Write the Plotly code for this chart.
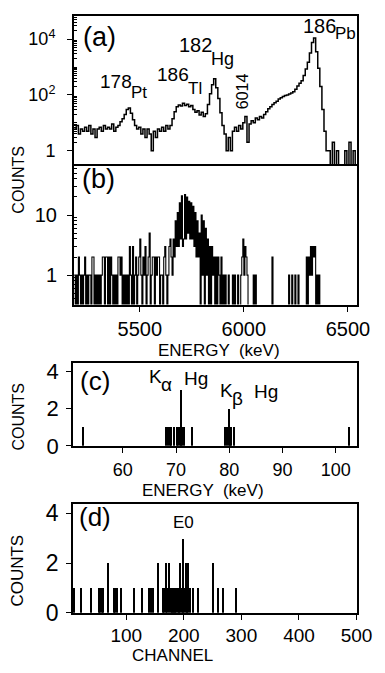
import numpy as np
import plotly.graph_objects as go

# ---------------- DATA ----------------
# Panel (a): alpha singles spectrum, 10 keV bins, first bin starts at 5185 keV
a_e_start = 5185
a_bin_kev = 10
a_counts = [
    6, 8, 4, 6, 5, 7, 5, 8, 4, 6,
    3, 6, 7, 5, 8, 6, 7, 6, 9, 5,
    7, 8, 11, 14, 20, 30, 34, 22, 13, 8,
    6, 7, 4, 6, 3, 6, 4, 1, 5, 3,
    6, 5, 7, 5, 8, 6, 8, 14, 25, 38,
    44, 40, 50, 42, 46, 38, 42, 30, 24, 27,
    19, 24, 17, 21, 45, 110, 230, 380, 180, 75,
    23, 8, 4, 1, 3, 1, 5, 7, 5, 8,
    6, 10, 17, 2, 9, 12, 10, 15, 13, 17,
    15, 20, 25, 32, 38, 45, 52, 60, 72, 80,
    88, 95, 100, 108, 118, 130, 160, 210, 260, 320,
    500, 850, 1500, 3200, 7500, 11000, 3500, 900, 200, 30,
    5, 1, 1, 0, 2, 0, 1, 0, 0, 0,
    1, 0, 2, 0, 1, 0,
]

# Panel (b): coincidence spectrum, 5 keV bins, first bin starts at 5185 keV
b_e_start = 5185
b_bin_kev = 5
b_counts = (
    [1, 0, 1, 0, 2, 1, 0, 1, 0, 1,
     2, 0, 1, 0, 1, 1, 0, 2, 2, 0,
     1, 0, 1, 0, 1, 0, 1, 2, 2, 0,
     2, 2, 0, 2, 0, 2, 1, 0, 1, 0,
     1, 0, 2, 2, 1, 2, 0, 1, 0, 1,
     0, 1, 0, 3, 1, 0, 3, 0, 1, 2,
     0, 1, 2, 4, 1, 0, 2, 1, 3, 0,
     1, 2, 5, 0, 1, 2, 2, 0, 2, 1,
     2, 2, 0, 1, 1, 0, 2, 3, 1, 0,
     1, 3, 4]
    + [2, 1, 4, 2, 8, 3, 11, 3, 16, 4,
       21, 3, 4, 22, 4, 20, 5, 17, 4, 16,
       4, 14, 3, 11, 2, 8, 2, 5, 0, 10,
       1, 8, 0, 6, 1, 4, 0, 3, 0, 3,
       1, 2, 0, 2, 0, 2, 1, 0, 2, 0,
       1, 0, 1, 0, 0, 1, 0, 0, 0, 1,
       0, 1, 0, 0, 1, 0, 0, 1, 2, 4,
       1, 3, 2, 1]
    + [0, 0, 0, 0, 0, 1, 0, 1, 0, 0, 0, 0, 0, 0, 0,
       0, 0, 0, 0, 0, 0, 0, 0, 2, 0, 0, 0, 0, 0, 0,
       0, 0, 0, 0, 0, 0, 0, 0, 0, 1, 0, 0, 1, 0, 0,
       1, 0, 0, 1, 0, 0, 0, 0, 0, 0, 0, 2, 0, 2, 1,
       3, 1, 3, 2, 3, 0, 1, 0, 1, 0, 0, 0, 0, 0, 0,
       0, 0, 0, 0, 0, 0, 0, 0, 0, 0, 0, 0, 0, 0, 0,
       0, 0, 0, 0, 0, 0, 0, 0, 0, 0, 0, 0, 0, 0, 0]
)

# Panel (c): X-ray energies (keV) and counts
c_energy = [52.6, 68.2, 68.5, 68.8, 69.1, 69.7, 70.1, 70.4, 70.7, 70.9,
            71.2, 71.5, 73.0, 79.2, 79.5, 79.9, 80.2, 80.4, 80.9, 102.5]
c_counts = [1, 1, 1, 1, 1, 1, 1, 1, 1, 3,
            1, 1, 1, 1, 1, 2, 1, 1, 1, 1]

# Panel (d): electron channel and counts
d_channel = [9, 22, 39, 53, 55, 57, 59, 68, 79, 81, 83, 91, 113, 128, 140,
             143, 146, 155, 163, 165, 169, 171, 174, 177, 179, 181, 183, 185, 187, 189,
             191, 194, 196, 199, 201, 203, 205, 208, 211, 216, 225, 251, 260, 268, 290]
d_counts = [1, 1, 1, 1, 1, 1, 1, 2, 1, 1, 1, 1, 1, 1, 1,
            1, 1, 2, 1, 1, 2, 1, 2, 1, 1, 1, 1, 1, 1, 1,
            1, 2, 1, 3, 1, 2, 1, 2, 1, 1, 1, 2, 1, 1, 1]

# ---------------- FIGURE ----------------
W, H = 385, 673
FONT = "Liberation Sans"
LOG_FLOOR = 0.01  # zero-count bins drawn below the visible log range


def step_xy(start, width, counts):
    c = np.asarray(counts, dtype=float)
    edges = start + width * np.arange(len(c) + 1)
    y = np.where(c > 0, c, LOG_FLOOR)
    y = np.append(y, y[-1])
    return edges, y


def px_x(x):
    return x / W


def px_y(y):
    return 1 - y / H


fig = go.Figure()

xa, ya = step_xy(a_e_start, a_bin_kev, a_counts)
fig.add_trace(go.Scatter(x=xa, y=ya, mode="lines", line=dict(shape="hv", color="black", width=1.5),
                         xaxis="x", yaxis="y", showlegend=False))
xb, yb = step_xy(b_e_start, b_bin_kev, b_counts)
fig.add_trace(go.Scatter(x=xb, y=yb, mode="lines", line=dict(shape="hv", color="black", width=1.1),
                         xaxis="x2", yaxis="y2", showlegend=False))
fig.add_trace(go.Bar(x=c_energy, y=c_counts, width=0.26, marker=dict(color="black", line=dict(width=0)),
                     xaxis="x3", yaxis="y3", showlegend=False))
fig.add_trace(go.Bar(x=d_channel, y=d_counts, width=2.2, marker=dict(color="black", line=dict(width=0)),
                     xaxis="x4", yaxis="y4", showlegend=False))

axis_common = dict(showline=True, linecolor="black", linewidth=1.6, mirror=True,
                   showgrid=False, zeroline=False, ticks="outside", tickcolor="black",
                   tickwidth=1.4, ticklen=5, ticklabeloverflow="allow",
                   tickfont=dict(family=FONT, size=20, color="black"))

dom_ab = [px_x(77), px_x(373)]
dom_cd = [px_x(76), px_x(372)]

minor_a = [m * 10 ** k for k in range(0, 5) for m in range(1, 10) if not (m == 1 and k in (0, 2, 4))]
minor_b = [m * 10 ** k for k in range(-1, 2) for m in range(1, 10) if not (m == 1 and k in (0, 1))]

fig.update_layout(
    width=W, height=H, margin=dict(l=0, r=0, t=0, b=0),
    paper_bgcolor="white", plot_bgcolor="white",
    font=dict(family=FONT, color="black"),
    bargap=0,
    # panel (a): x axis drawn only as the top border; bottom border comes from panel (b)
    xaxis=dict(axis_common, domain=dom_ab, anchor="y", range=[5183, 6546], side="top",
               mirror=False, showticklabels=False, ticks="", matches="x2"),
    yaxis=dict(axis_common, domain=[px_y(166), px_y(12)], anchor="x", type="log",
               range=[-0.54, 4.84], tickmode="array", tickvals=[1, 100, 10000],
               ticktext=["1", "10<sup>2</sup>", "10<sup>4</sup>"],
               tickfont=dict(family=FONT, size=18, color="black"), ticklabelstandoff=8,
               minor=dict(tickmode="array", tickvals=minor_a, ticks="inside", ticklen=3,
                          tickcolor="black", tickwidth=1)),
    xaxis2=dict(axis_common, domain=dom_ab, anchor="y2", range=[5183, 6546],
                tickmode="array", tickvals=[5500, 6000, 6500], ticklen=6),
    yaxis2=dict(axis_common, domain=[px_y(308.3), px_y(166)], anchor="x2", type="log",
                range=[-0.49, 1.82], tickmode="array", tickvals=[1, 10], ticktext=["1", "10"],
                tickfont=dict(family=FONT, size=20, color="black"), ticklabelstandoff=6,
                minor=dict(tickmode="array", tickvals=minor_b, ticks="inside", ticklen=3,
                           tickcolor="black", tickwidth=1)),
    xaxis3=dict(axis_common, domain=dom_cd, anchor="y3", range=[50.6, 103.9],
                tickmode="array", tickvals=[60, 70, 80, 90, 100],
                tickfont=dict(family=FONT, size=18, color="black"), ticklabelstandoff=2),
    yaxis3=dict(axis_common, domain=[px_y(453.3), px_y(368.3)], anchor="x3", range=[0, 4.44],
                tickmode="array", tickvals=[0, 2, 4],
                tickfont=dict(family=FONT, size=22, color="black"), ticklabelstandoff=3),
    xaxis4=dict(axis_common, domain=dom_cd, anchor="y4", range=[7.2, 500],
                tickmode="array", tickvals=[100, 200, 300, 400, 500],
                tickfont=dict(family=FONT, size=19, color="black")),
    yaxis4=dict(axis_common, domain=[px_y(624.5), px_y(512.7)], anchor="x4", range=[0, 4.39],
                tickmode="array", tickvals=[0, 2, 4],
                tickfont=dict(family=FONT, size=23, color="black"), ticklabelstandoff=3),
)


def ann(text, x, y, size, angle=0, xanchor="center"):
    return dict(text=text, x=px_x(x), y=px_y(y), xref="paper", yref="paper",
                showarrow=False, textangle=angle, xanchor=xanchor, yanchor="middle",
                font=dict(family=FONT, size=size, color="black"))


anns = [
    ann("(a)", 104, 34, 27),
    ann("(b)", 103, 180, 27),
    ann("(c)", 99, 387, 26),
    ann("(d)", 99, 526, 26),
    ann("178", 121, 79, 19), ann("Pt", 145, 91, 17),
    ann("186", 181, 72, 19), ann("Tl", 203, 87, 17),
    ann("182", 204, 42, 20), ann("Hg", 232, 56, 18),
    ann("6014", 253, 89, 16, angle=-90),
    ann("186", 333, 23, 20), ann("Pb", 361, 30, 17),
    ann("K", 162, 382, 19), ann("α", 174, 390, 19), ann("Hg", 204, 384, 19),
    ann("K", 236, 397, 19), ann("β", 248, 405, 19), ann("Hg", 278, 398, 19),
    ann("E0", 191, 532, 17),
    ann("ENERGY  (keV)", 229, 355, 17),
    ann("ENERGY  (keV)", 212, 499, 17),
    ann("CHANNEL", 180, 668, 17),
    ann("COUNTS", 19, 180, 16, angle=-90),
    ann("COUNTS", 19, 423, 16, angle=-90),
    ann("COUNTS", 18, 581, 17, angle=-90),
]
fig.update_layout(annotations=anns)

fig.write_html("out.html")
